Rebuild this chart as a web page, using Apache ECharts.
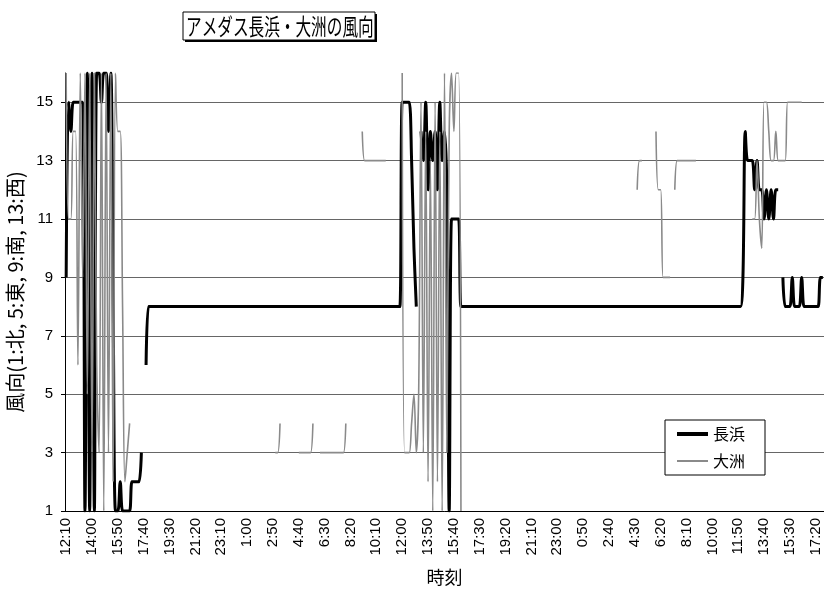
<!DOCTYPE html>
<html>
<head>
<meta charset="utf-8">
<script src="https://cdn.jsdelivr.net/npm/echarts@6/dist/echarts.min.js"></script>
<style>
  html, body { margin: 0; padding: 0; background: #fff; }
  #chart { width: 824px; height: 591px; }
</style>
</head>
<body>
<div id="chart"></div>
<script>
// 10-minute observations starting at 12:10
const startMinutes = 12 * 60 + 10;
const stepMinutes = 10;
const pointCount = 323;
const timeLabels = [];
for (let k = 0; k < pointCount; k++) {
  const m = (startMinutes + k * stepMinutes) % 1440;
  timeLabels.push(Math.floor(m / 60) + ':' + String(m % 60).padStart(2, '0'));
}

// wind direction ticks on the 16-point scale (1:N, 5:E, 9:S, 13:W)
const directionTicks = [1, 3, 5, 7, 9, 11, 13, 15];

const __ = null; // missing observation

// 長浜 — one row per 110 minutes
const nagahama = [
  9, 15, 14, 15, 15, 15, 15, 15, 1, 16, 1,
  16, 1, 16, 16, 15, 16, 16, 14, 16, 8, 1,
  1, 2, 1, 1, 1, 1, 2, 2, 2, 2, 3,
  __, 6, 8, 8, 8, 8, 8, 8, 8, 8, 8,
  8, 8, 8, 8, 8, 8, 8, 8, 8, 8, 8,
  8, 8, 8, 8, 8, 8, 8, 8, 8, 8, 8,
  8, 8, 8, 8, 8, 8, 8, 8, 8, 8, 8,
  8, 8, 8, 8, 8, 8, 8, 8, 8, 8, 8,
  8, 8, 8, 8, 8, 8, 8, 8, 8, 8, 8,
  8, 8, 8, 8, 8, 8, 8, 8, 8, 8, 8,
  8, 8, 8, 8, 8, 8, 8, 8, 8, 8, 8,
  8, 8, 8, 8, 8, 8, 8, 8, 8, 8, 8,
  8, 8, 8, 8, 8, 8, 8, 8, 8, 8, 8,
  15, 15, 15, 15, 13, 10, 8, __, 14, 13, 15,
  12, 14, 13, 14, 12, 15, 13, 14, 12, 1, 11,
  11, 11, 11, 8, 8, 8, 8, 8, 8, 8, 8,
  8, 8, 8, 8, 8, 8, 8, 8, 8, 8, 8,
  8, 8, 8, 8, 8, 8, 8, 8, 8, 8, 8,
  8, 8, 8, 8, 8, 8, 8, 8, 8, 8, 8,
  8, 8, 8, 8, 8, 8, 8, 8, 8, 8, 8,
  8, 8, 8, 8, 8, 8, 8, 8, 8, 8, 8,
  8, 8, 8, 8, 8, 8, 8, 8, 8, 8, 8,
  8, 8, 8, 8, 8, 8, 8, 8, 8, 8, 8,
  8, 8, 8, 8, 8, 8, 8, 8, 8, 8, 8,
  8, 8, 8, 8, 8, 8, 8, 8, 8, 8, 8,
  8, 8, 8, 8, 8, 8, 8, 8, 8, 8, 8,
  8, 8, 9, 14, 13, 13, 13, 12, 13, 12, 12,
  11, 12, 11, 12, 11, 12, 12, __, 9, 8, 8,
  8, 9, 8, 8, 8, 9, 8, 8, 8, 8, 8,
  8, 8, 9, 9
];

// 大洲 — one row per 110 minutes
const ozu = [
  16, 11, 11, 14, 14, 6, 16, 9, 16, 5, 16,
  3, 16, 6, 3, 16, 1, 16, 3, 16, 2, 16,
  14, 14, 8, 2, 3, 4, __, __, __, __, __,
  __, __, __, __, __, __, __, __, __, __, __,
  __, __, __, __, __, __, __, __, __, __, __,
  __, __, __, __, __, __, __, __, __, __, __,
  __, __, __, __, __, __, __, __, __, __, __,
  __, __, __, __, __, __, __, __, __, __, __,
  __, 3, 3, 4, __, __, __, __, __, __, __,
  3, 3, 3, 3, 3, 3, 4, __, __, 3, 3,
  3, 3, 3, 3, 3, 3, 3, 3, 3, 4, __,
  __, __, __, __, __, 14, 13, 13, 13, 13, 13,
  13, 13, 13, 13, 13, __, __, __, __, __, __,
  16, 3, 3, 3, 4, 5, 3, 5, 15, 3, 14,
  2, 13, 1, 15, 2, 14, 1, 16, 3, 14, 16,
  14, 16, 16, 1, __, __, __, __, __, __, __,
  __, __, __, __, __, __, __, __, __, __, __,
  __, __, __, __, __, __, __, __, __, __, __,
  __, __, __, __, __, __, __, __, __, __, __,
  __, __, __, __, __, __, __, __, __, __, __,
  __, __, __, __, __, __, __, __, __, __, __,
  __, __, __, __, __, __, __, __, __, __, __,
  __, 12, 13, 13, __, __, __, __, __, 14, 12,
  12, 9, 9, 9, 9, __, 12, 13, 13, 13, 13,
  13, 13, 13, 13, 13, __, __, __, __, __, __,
  __, __, __, __, __, __, __, __, __, __, __,
  __, __, __, __, __, __, 11, 11, 13, 11, 10,
  15, 15, 14, 13, 13, 14, 13, 13, 13, 13, 15,
  15, 15, 15, 15, 15, 15, __, __, __, __, __,
  __, __, __, __
];

const chartTitle = 'アメダス長浜・大洲の風向';
const xAxisTitle = '時刻';
const yAxisTitle = '風向(1:北, 5:東, 9:南, 13:西)';
const seriesNames = ['長浜', '大洲'];

const jpFont = '"Noto Sans CJK JP", sans-serif';
const numFont = '"Liberation Sans", Arial, sans-serif';

const chart = echarts.init(document.getElementById('chart'), null, { renderer: 'canvas' });

chart.setOption({
  animation: false,
  backgroundColor: '#ffffff',
  grid: { left: 65, right: 0, top: 73, bottom: 80, containLabel: false, outerBoundsMode: 'none' },
  graphic: [
    // boxed title with a hard drop shadow
    { type: 'rect', x: 185, y: 14, shape: { width: 192, height: 28 }, style: { fill: '#000' }, z: 10 },
    { type: 'rect', x: 183, y: 12, shape: { width: 192, height: 28 }, style: { fill: '#fff', stroke: '#000', lineWidth: 1 }, z: 11 },
    {
      type: 'text', x: 186, y: 26, scaleX: 0.68, z: 12,
      style: {
        text: chartTitle, font: '23px ' + jpFont, fill: '#000',
        align: 'left', verticalAlign: 'middle', textAlign: 'left', textVerticalAlign: 'middle'
      }
    }
  ],
  legend: {
    orient: 'vertical',
    left: 665, top: 420,
    backgroundColor: '#fff',
    borderColor: '#000', borderWidth: 1,
    padding: [6, 20, 6, 12],
    itemWidth: 31, itemHeight: 14, itemGap: 11,
    textStyle: { fontSize: 16, fontFamily: jpFont, color: '#000' },
    data: [
      { name: seriesNames[0], icon: 'path://M0,0H31V4H0Z' },
      { name: seriesNames[1], icon: 'path://M0,0H31V2H0Z' }
    ]
  },
  xAxis: {
    type: 'category',
    data: timeLabels,
    boundaryGap: true,
    axisLine: { lineStyle: { color: '#000', width: 1 } },
    axisTick: { interval: 0, inside: true, length: 5, lineStyle: { color: '#555' } },
    axisLabel: { interval: 10, rotate: 90, fontSize: 15, color: '#000', margin: 7, fontFamily: numFont },
    splitLine: { show: false },
    name: xAxisTitle,
    nameLocation: 'middle',
    nameGap: 57,
    nameTextStyle: { fontSize: 18, color: '#000', fontFamily: jpFont }
  },
  yAxis: {
    type: 'value',
    min: 1, max: 16,
    axisLine: { show: true, lineStyle: { color: '#000' } },
    axisTick: { show: true, length: 4, customValues: directionTicks, lineStyle: { color: '#000' } },
    axisLabel: { customValues: directionTicks, fontSize: 15, color: '#000', margin: 12, fontFamily: numFont },
    splitLine: { show: true, lineStyle: { color: '#666', width: 1 } },
    name: yAxisTitle,
    nameLocation: 'middle',
    nameGap: 32,
    nameRotate: 90,
    nameTextStyle: { fontSize: 20, color: '#000', fontFamily: jpFont }
  },
  series: [
    {
      name: seriesNames[0], type: 'line', data: nagahama,
      symbol: 'none', smooth: 0.35, connectNulls: false,
      lineStyle: { color: '#000', width: 3 }, itemStyle: { color: '#000' }
    },
    {
      name: seriesNames[1], type: 'line', data: ozu,
      symbol: 'none', smooth: 0.35, connectNulls: false,
      lineStyle: { color: '#8a8a8a', width: 1.6 }, itemStyle: { color: '#8a8a8a' }
    }
  ]
});
</script>
</body>
</html>
